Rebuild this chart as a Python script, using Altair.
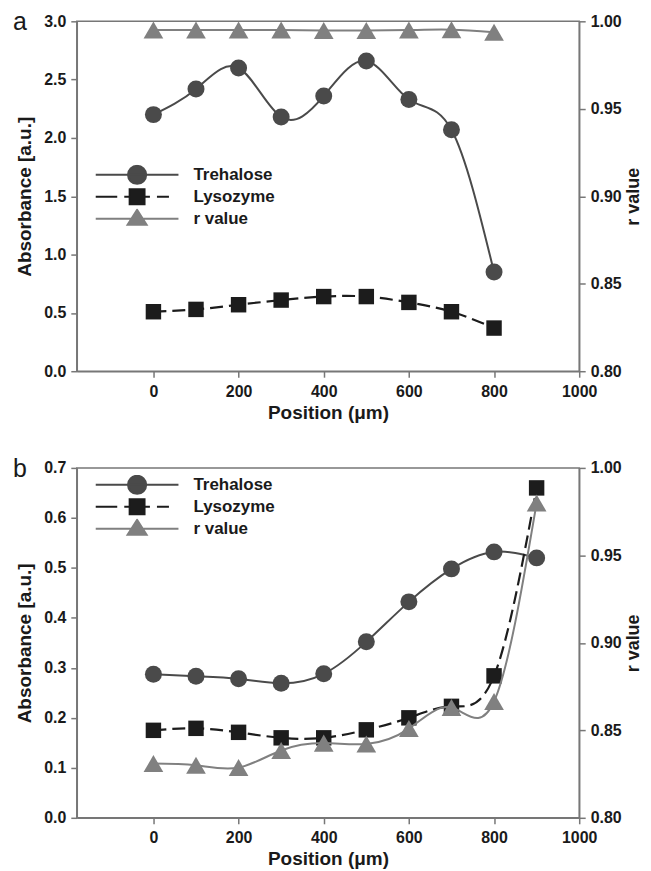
import altair as alt
import pandas as pd

FONT = "Liberation Sans"

series_names = ["Trehalose", "Lysozyme", "r value"]
series_colors = ["#4a4a4a", "#1c1c1c", "#808080"]
# legend glyphs: line with marker in the middle (unit square coordinates)
legend_paths = [
    "M-1,0H1M-0.22,0A0.22,0.22,0,1,0,0.22,0A0.22,0.22,0,1,0,-0.22,0Z",
    "M-1,0H-0.48M-0.31,0H0.31M0.48,0H0.77M-0.18,-0.18H0.18V0.18H-0.18Z",
    "M-1,0H1M-0.23,0.145L0,-0.215L0.23,0.145Z",
]

pos_a = [0, 100, 200, 300, 400, 500, 600, 700, 800]
treh_a = [2.20, 2.42, 2.60, 2.18, 2.36, 2.66, 2.33, 2.07, 0.85]
lyso_a = [0.51, 0.53, 0.57, 0.61, 0.64, 0.64, 0.59, 0.51, 0.37]
rval_a = [0.995, 0.995, 0.995, 0.995, 0.9948, 0.9948, 0.995, 0.9952, 0.9938]

pos_b = [0, 100, 200, 300, 400, 500, 600, 700, 800, 900]
treh_b = [0.287, 0.283, 0.278, 0.269, 0.288, 0.352, 0.432, 0.498, 0.532, 0.520]
lyso_b = [0.175, 0.179, 0.171, 0.160, 0.160, 0.176, 0.200, 0.223, 0.284, 0.660]
rval_b = [0.831, 0.830, 0.8287, 0.8385, 0.8427, 0.8422, 0.851, 0.863, 0.8665, 0.980]

x_domain = [-180, 1000]
x_ticks = [0, 200, 400, 600, 800, 1000]
left_ticks_a = [0.0, 0.5, 1.0, 1.5, 2.0, 2.5, 3.0]
left_ticks_b = [0.0, 0.1, 0.2, 0.3, 0.4, 0.5, 0.6, 0.7]
right_ticks = [0.80, 0.85, 0.90, 0.95, 1.00]
panel_letters = ["a", "b"]

INTERP = "natural"

AX = dict(labelFont=FONT, labelFontSize=16, labelFontWeight="bold", labelColor="#1a1a1a",
          titleFont=FONT, titleFontWeight="bold", titleColor="#1a1a1a",
          domainColor="#777777", tickColor="#777777", domainWidth=1.5, tickWidth=1.5,
          tickSize=6, grid=False)


def panel(pos, treh, lyso, rval, left_dom, left_ticks, letter, legend_y):
    df = pd.DataFrame({"pos": pos, "Trehalose": treh, "Lysozyme": lyso, "rv": rval})
    x = alt.X("pos:Q", scale=alt.Scale(domain=x_domain, nice=False, zero=False),
              axis=alt.Axis(values=x_ticks, format="d", title="Position (\u03bcm)",
                            titleFontSize=19, labelFlush=False, labelPadding=6,
                            titlePadding=4, **AX))
    yl_scale = alt.Scale(domain=left_dom, nice=False, zero=False)
    yl_axis = alt.Axis(values=left_ticks, format=".1f", title="Absorbance [a.u.]",
                       titleFontSize=19, labelPadding=5, titlePadding=9, **AX)
    yr_axis = alt.Axis(orient="right", values=right_ticks, format=".2f", title="r value",
                       titleFontSize=18, titleAngle=270, titleBaseline="top",
                       labelPadding=5, titlePadding=3, **AX)
    yr_scale = alt.Scale(domain=[0.8, 1.0], nice=False, zero=False)
    base = alt.Chart(df).encode(x=x)

    yT = alt.Y("Trehalose:Q", scale=yl_scale, axis=yl_axis)
    yL = alt.Y("Lysozyme:Q", scale=yl_scale, axis=yl_axis)
    yR = alt.Y("rv:Q", scale=yr_scale, axis=yr_axis)

    line_t = base.mark_line(interpolate=INTERP, color=series_colors[0], strokeWidth=2).encode(y=yT)
    line_l = base.mark_line(interpolate=INTERP, color=series_colors[1], strokeWidth=2.2,
                            strokeDash=[13, 6]).encode(y=yL)
    pt_t = base.mark_point(shape="circle", filled=True, opacity=1, size=290,
                           color=series_colors[0]).encode(y=yT)
    pt_l = base.mark_point(shape="square", filled=True, opacity=1, size=240,
                           color=series_colors[1]).encode(y=yL)
    line_r = base.mark_line(interpolate=INTERP, color=series_colors[2], strokeWidth=2).encode(y=yR)
    pt_r = base.mark_point(shape="triangle-up", filled=True, opacity=1, size=390,
                           color=series_colors[2]).encode(y=yR)

    leg = alt.Legend(title=None, orient="none", legendX=18, legendY=legend_y,
                     symbolSize=6889, symbolStrokeWidth=2, symbolOpacity=1, clipHeight=20,
                     labelFont=FONT, labelFontSize=17, labelFontWeight="bold",
                     labelColor="#1a1a1a", labelOffset=14, rowPadding=2)
    leg_df = pd.DataFrame({"series": series_names})
    legend_layer = alt.Chart(leg_df).transform_filter("false").mark_point(
        filled=True, opacity=1).encode(
        fill=alt.Fill("series:N", scale=alt.Scale(domain=series_names, range=series_colors), legend=leg),
        stroke=alt.Stroke("series:N", scale=alt.Scale(domain=series_names, range=series_colors), legend=leg),
        shape=alt.Shape("series:N", scale=alt.Scale(domain=series_names, range=legend_paths), legend=leg),
    )

    letter_layer = alt.Chart(pd.DataFrame({"letter": [letter]})).mark_text(
        font=FONT, fontSize=25, align="center", baseline="alphabetic", color="#1a1a1a"
    ).encode(x=alt.value(-57), y=alt.value(9), text="letter:N")

    left = alt.layer(line_t, line_l, pt_t, pt_l)
    right = alt.layer(line_r, pt_r)
    return alt.layer(left, right, legend_layer, letter_layer).resolve_scale(
        y="independent").properties(width=504, height=351)


pa = panel(pos_a, treh_a, lyso_a, rval_a, [0, 3], left_ticks_a, panel_letters[0], 144)
pb = panel(pos_b, treh_b, lyso_b, rval_b, [0, 0.7], left_ticks_b, panel_letters[1], 7)

chart = alt.vconcat(pa, pb, spacing=33).resolve_scale(
    fill="independent", stroke="independent", shape="independent"
).properties(
    padding={"left": 4, "top": 0, "right": 0, "bottom": 0}
).configure_view(stroke="#777777", strokeWidth=1.5)

chart.save("out.html", embed_options={"renderer": "svg", "actions": False})
